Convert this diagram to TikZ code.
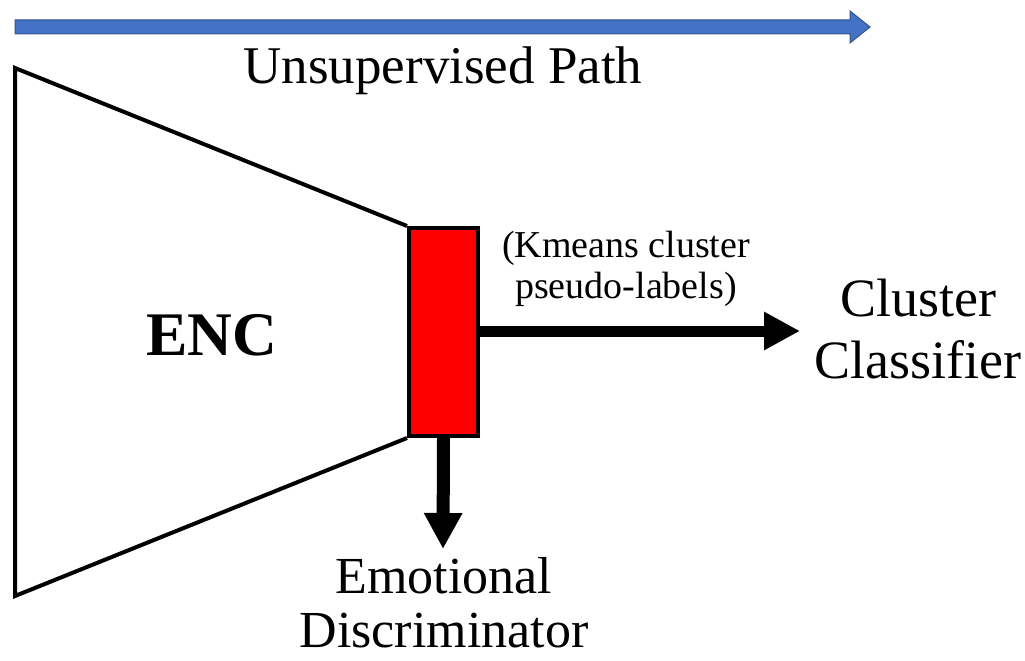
\documentclass[tikz,border=0pt]{standalone}
\usepackage{fontspec}
\setmainfont{Liberation Serif}
\usetikzlibrary{arrows.meta}
\definecolor{pblue}{HTML}{4472C4}
\definecolor{pblueb}{HTML}{2F528F}
\definecolor{featred}{HTML}{FF0000}
\begin{document}
\begin{tikzpicture}[x=1pt,y=-1pt,
  thickline/.style={line width=4pt, line join=miter},
  featbox/.style={draw, line width=4pt, fill=featred, minimum width=69pt, minimum height=208pt, inner sep=0pt},
  bigarrow/.style={line width=11pt, -{Triangle[length=36pt,width=36pt]}},
  txt/.style={inner sep=0pt, outer sep=0pt}]
\useasboundingbox (0,0) rectangle (1025,661);
% unsupervised path arrow
\coordinate (ps) at (15,27);
\coordinate (pe) at (870,27);
\filldraw[fill=pblue, draw=pblueb, line width=1pt, line join=miter]
  (ps) ++(0,-7) -- ++(835,0) -- ++(0,-9) -- (pe) -- ++(-20,16) -- ++(0,-9) -- ++(-835,0) -- cycle;
\node[txt, anchor=base, font=\fontsize{53}{60}\selectfont] (up) at (443,84) {Unsupervised Path};
% encoder trapezoid
\coordinate (t1) at (15,68);
\coordinate (t2) at (15,596);
\node[featbox] (feat) at (443.5,332) {};
\draw[thickline] (feat.north west) -- (t1) -- (t2) -- (feat.south west);
\node[featbox] at (feat.center) {};
\node[txt, anchor=base, font=\fontsize{62}{70}\selectfont\bfseries] (enc) at (212,355) {ENC};
% outputs
\coordinate (cc) at (800,331);
\coordinate (ed) at (443,549);
\draw[bigarrow] (feat.east |- cc) -- (cc);
\draw[bigarrow, line width=13pt] (feat.south) -- (ed);
\node[txt, anchor=base, align=center, font=\fontsize{38}{41}\selectfont] (km) at (626,298) {(Kmeans cluster\\pseudo-labels)};
\node[txt, anchor=base, align=center, font=\fontsize{54}{62}\selectfont] (cl) at (918,378) {Cluster\\Classifier};
\node[txt, anchor=base, align=center, font=\fontsize{52}{54}\selectfont] (em) at (444,647) {Emotional\\Discriminator};
\end{tikzpicture}
\end{document}
